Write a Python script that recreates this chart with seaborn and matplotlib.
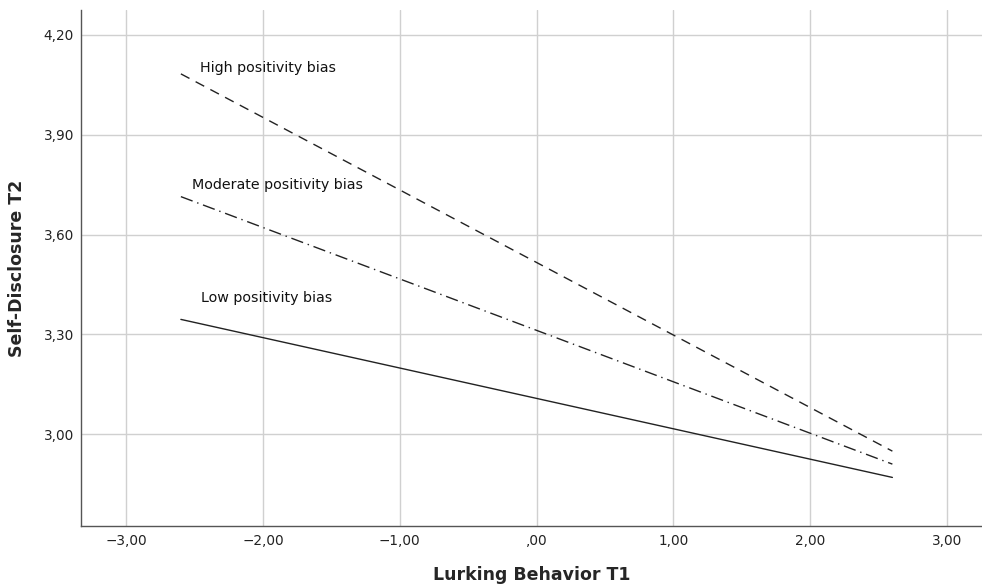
import matplotlib
matplotlib.use("Agg")
import matplotlib.pyplot as plt
import seaborn as sns
import pandas as pd

x_vals = [-2.6, 2.6]
high = [4.083, 2.949]
moderate = [3.714, 2.91]
low = [3.345, 2.87]
groups = ["High positivity bias", "Moderate positivity bias", "Low positivity bias"]
label_pos = [(-2.46, 4.10), (-2.52, 3.75), (-2.45, 3.41)]
xticks = [-3, -2, -1, 0, 1, 2, 3]
xticklabels = ["\u22123,00", "\u22122,00", "\u22121,00", ",00", "1,00", "2,00", "3,00"]
yticks = [3.0, 3.3, 3.6, 3.9, 4.2]
yticklabels = ["3,00", "3,30", "3,60", "3,90", "4,20"]

df = pd.DataFrame({
    "x": x_vals * 3,
    "y": high + moderate + low,
    "group": [g for g in groups for _ in x_vals],
})

sns.set_style("white")
plt.rcParams['font.family'] = ['DejaVu Sans']

fig = plt.figure(figsize=(9.82, 5.87), dpi=100)
ax = fig.add_axes([81/982, 61/587, 1 - 81/982, (526-10)/587])

ax.set_xlim(-3.33, 3.255)
ax.set_ylim(2.724, 4.275)
ax.set_xticks(xticks)
ax.set_xticklabels(xticklabels)
ax.set_yticks(yticks)
ax.set_yticklabels(yticklabels)
ax.grid(True, color="#d0d0d0", linewidth=1.0)
ax.set_axisbelow(True)

sns.lineplot(data=df, x="x", y="y", hue="group", style="group",
             palette=["#222222"] * 3,
             dashes={"High positivity bias": (7, 5),
                     "Moderate positivity bias": (9, 3.5, 1, 3.5),
                     "Low positivity bias": ""},
             linewidth=1.0, legend=False, ax=ax)

for g, (tx, ty) in zip(groups, label_pos):
    ax.text(tx, ty, g, fontsize=10.3, color="#111111", ha="left", va="center")

for s in ["top", "right"]:
    ax.spines[s].set_visible(False)
for s in ["left", "bottom"]:
    ax.spines[s].set_color("#555555")
    ax.spines[s].set_linewidth(1.0)
ax.tick_params(axis="x", length=0, labelsize=9.8, colors="#222222", pad=6)
ax.tick_params(axis="y", length=0, labelsize=9.8, colors="#222222", pad=5)

ax.set_xlabel("Lurking Behavior T1", fontsize=12.5, fontweight="bold", labelpad=13)
ax.set_ylabel("Self-Disclosure T2", fontsize=12.5, fontweight="bold", labelpad=13)

fig.savefig("out.png", dpi=100)
